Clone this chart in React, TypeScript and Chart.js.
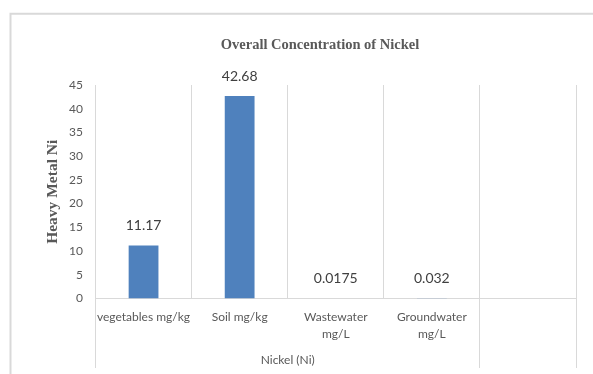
import { useEffect, useRef } from "react";
import { Chart, registerables } from "chart.js";

Chart.register(...registerables);

const categories: (string | string[])[] = [
  "vegetables mg/kg",
  "Soil mg/kg",
  ["Wastewater", "mg/L"],
  ["Groundwater", "mg/L"],
  "",
];
const nickelValues: (number | null)[] = [11.17, 42.68, 0.0175, 0.032, null];
const groupLabel = "Nickel (Ni)";
const groupSpan = 4;
const yMin = 0;
const yMax = 45;
const yStep = 5;
const chartTitle = "Overall Concentration of Nickel";
const yAxisTitle = "Heavy Metal Ni";

const GRID = "#d9d9d9";
const TEXT = "#595959";
const BAR = "#4f81bd";
const SANS = "Lato, 'Noto Sans', sans-serif";
const SERIF = "'Liberation Serif', 'Times New Roman', serif";

const decor = {
  id: "decor",
  beforeDraw(chart: any) {
    const ctx = chart.ctx;
    ctx.save();
    ctx.fillStyle = "#ffffff";
    ctx.fillRect(0, 0, chart.width, chart.height);
    ctx.strokeStyle = GRID;
    ctx.lineWidth = 2;
    ctx.beginPath();
    ctx.moveTo(10.5, chart.height);
    ctx.lineTo(10.5, 13.7);
    ctx.lineTo(chart.width, 13.7);
    ctx.stroke();
    ctx.fillStyle = TEXT;
    ctx.font = `bold 14.5px ${SERIF}`;
    ctx.textAlign = "center";
    ctx.textBaseline = "middle";
    ctx.fillText(chartTitle, 320, 45);
    ctx.restore();
  },
  afterDatasetsDraw(chart: any) {
    const ctx = chart.ctx;
    const meta = chart.getDatasetMeta(0);
    ctx.save();
    ctx.fillStyle = "#404040";
    ctx.font = `14px ${SANS}`;
    ctx.textAlign = "center";
    ctx.textBaseline = "middle";
    meta.data.forEach((el: any, i: number) => {
      const v = nickelValues[i];
      if (v === null || v === undefined) return;
      ctx.fillText(String(v), el.x, el.y - 20);
    });
    ctx.restore();
  },
  afterDraw(chart: any) {
    const ctx = chart.ctx;
    const xs = chart.scales.x;
    const w = (xs.right - xs.left) / categories.length;
    const edges = [xs.left, xs.left + groupSpan * w, xs.right];
    const bottom = chart.chartArea.bottom;
    ctx.save();
    ctx.strokeStyle = GRID;
    ctx.lineWidth = 1;
    edges.forEach((x) => {
      const px = Math.round(x - 0.5) + 0.5;
      ctx.beginPath();
      ctx.moveTo(px, bottom);
      ctx.lineTo(px, 368);
      ctx.stroke();
    });
    ctx.fillStyle = TEXT;
    ctx.font = `12px ${SANS}`;
    ctx.textAlign = "center";
    ctx.textBaseline = "middle";
    ctx.fillText(groupLabel, (edges[0] + edges[1]) / 2, 360);
    ctx.restore();
  },
};

export default function App() {
  const ref = useRef<HTMLCanvasElement>(null);
  useEffect(() => {
    if (!ref.current) return;
    const chart = new Chart(ref.current, {
      type: "bar",
      data: {
        labels: categories,
        datasets: [
          {
            data: nickelValues,
            backgroundColor: BAR,
            borderWidth: 0,
            categoryPercentage: 1,
            barPercentage: 0.31,
          },
        ],
      },
      options: {
        responsive: false,
        animation: false,
        devicePixelRatio: 1,
        layout: { padding: { left: 44, right: 17, top: 85, bottom: 0 } },
        plugins: {
          legend: { display: false },
          title: { display: false },
          tooltip: { enabled: false },
        },
        scales: {
          x: {
            type: "category",
            offset: true,
            grid: { display: true, offset: true, color: GRID, lineWidth: 1, drawTicks: false },
            border: { display: true, color: GRID, width: 1 },
            ticks: {
              color: TEXT,
              font: { family: SANS, size: 12, lineHeight: 1.35 },
              padding: 11,
              maxRotation: 0,
              autoSkip: false,
            },
            afterFit: (s: any) => {
              s.height = 75.5;
            },
          },
          y: {
            min: yMin,
            max: yMax,
            grid: { display: false, drawTicks: false },
            border: { display: false },
            ticks: {
              stepSize: yStep,
              color: TEXT,
              font: { family: SANS, size: 12 },
              padding: 12.5,
            },
            title: {
              display: true,
              text: yAxisTitle,
              color: TEXT,
              font: { family: SERIF, size: 15.5, weight: "bold" },
              padding: { top: 0, bottom: 0 },
            },
            afterFit: (s: any) => {
              s.width = 51.5;
            },
          },
        },
      },
      plugins: [decor],
    } as any);
    return () => chart.destroy();
  }, []);
  return (
    <div style={{ position: "absolute", left: 0, top: 0, width: 593, height: 374, background: "#fff" }}>
      <canvas ref={ref} width={593} height={374} style={{ display: "block" }} />
    </div>
  );
}
